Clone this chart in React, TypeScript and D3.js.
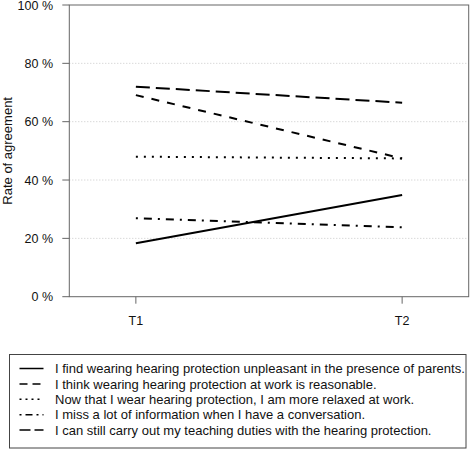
import React from "react";
import * as d3 from "d3";

const timePoints = ["T1", "T2"];
const yTicks = [0, 20, 40, 60, 80, 100];
const gridTicks = [20, 40, 60, 80];

const seriesLabels = [
  "I find wearing hearing protection unpleasant in the presence of parents.",
  "I think wearing hearing protection at work is reasonable.",
  "Now that I wear hearing protection, I am more relaxed at work.",
  "I miss a lot of information when I have a conversation.",
  "I can still carry out my teaching duties with the hearing protection.",
];
const s1 = [18.3, 34.9];
const s2 = [69.1, 47.4];
const s3 = [48.0, 47.4];
const s4 = [26.9, 23.8];
const s5 = [72.0, 66.5];
const seriesValues = [s1, s2, s3, s4, s5];

const plotDash = ["none", "8,8", "2,6", "2,6,8,6", "14,6"];
const legendDash = ["none", "8,5", "2,4", "2,4,7,4", "11,4"];

const W = 472;
const H = 450;
const L = 69.3;
const R = 468.7;
const T = 5;
const B = 296.7;
const FONT = "'Liberation Sans', Arial, Helvetica, sans-serif";

export default function App() {
  const x = d3.scaleLinear().domain([0.75, 2.25]).range([L, R]);
  const y = d3.scaleLinear().domain([0, 100]).range([B, T]);
  const line = d3
    .line<number>()
    .x((_, i) => x(i + 1))
    .y((d) => y(d));

  const legX = 9.5;
  const legY = 354.5;
  const legW = 456.5;
  const legH = 93.5;
  const rowY0 = 368.5;
  const rowStep = 15.4;

  return (
    <svg
      width={W}
      height={H}
      style={{ position: "absolute", left: 0, top: 0, background: "#fff" }}
      fontFamily={FONT}
    >
      <rect x={0} y={0} width={W} height={H} fill="#fff" />
      {gridTicks.map((t) => (
        <line
          key={"g" + t}
          x1={L}
          x2={R}
          y1={y(t)}
          y2={y(t)}
          stroke="#c8c8c8"
          strokeWidth={1}
          strokeDasharray="1,2"
        />
      ))}
      {yTicks.map((t) => (
        <g key={"y" + t}>
          <line x1={L - 7} x2={L} y1={y(t)} y2={y(t)} stroke="#666" strokeWidth={1} />
          <text
            x={53}
            y={y(t)}
            dy="0.36em"
            textAnchor="end"
            fontSize={12.5}
            fill="#111"
          >
            {t} %
          </text>
        </g>
      ))}
      {timePoints.map((tp, i) => (
        <g key={tp}>
          <line x1={x(i + 1)} x2={x(i + 1)} y1={B} y2={B + 7} stroke="#666" strokeWidth={1} />
          <text x={x(i + 1)} y={325} textAnchor="middle" fontSize={12.5} fill="#111">
            {tp}
          </text>
        </g>
      ))}
      <text
        transform={`translate(12, ${(T + B) / 2}) rotate(-90)`}
        textAnchor="middle"
        fontSize={13}
        fill="#111"
      >
        Rate of agreement
      </text>
      {seriesValues.map((vals, i) => (
        <path
          key={"s" + i}
          d={line(vals) || ""}
          fill="none"
          stroke="#000"
          strokeWidth={2}
          strokeDasharray={plotDash[i]}
        />
      ))}
      <rect x={L} y={T} width={R - L} height={B - T} fill="none" stroke="#666" strokeWidth={1} />
      <rect x={legX} y={legY} width={legW} height={legH} fill="#fff" stroke="#444" strokeWidth={1} />
      {seriesLabels.map((lab, i) => (
        <g key={"l" + i}>
          <line
            x1={19.5}
            x2={43.5}
            y1={rowY0 + i * rowStep}
            y2={rowY0 + i * rowStep}
            stroke="#000"
            strokeWidth={1.5}
            strokeDasharray={legendDash[i]}
          />
          <text x={55} y={rowY0 + i * rowStep} dy="0.36em" fontSize={13} fill="#111">
            {lab}
          </text>
        </g>
      ))}
    </svg>
  );
}
